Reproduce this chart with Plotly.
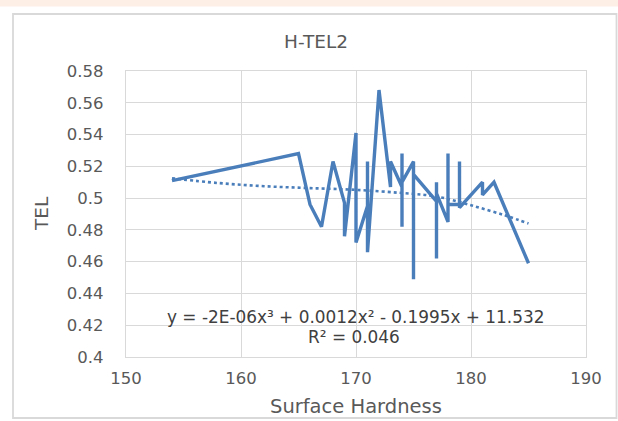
import plotly.graph_objects as go

# Data (in plotting order)
hardness = [154, 165, 166, 167, 168, 169, 169, 170, 170, 171, 171, 171, 172,
            173, 173, 174, 174, 174, 174, 175, 175, 175, 177, 177, 177, 177,
            178, 178, 178, 179, 179, 179, 181, 181, 182, 185]
tel = [0.511, 0.528, 0.496, 0.482, 0.523, 0.497, 0.476, 0.541, 0.472, 0.495,
       0.523, 0.466, 0.568, 0.507, 0.523, 0.507, 0.528, 0.482, 0.510, 0.523,
       0.449, 0.515, 0.498, 0.510, 0.462, 0.503, 0.485, 0.528, 0.496, 0.496,
       0.523, 0.494, 0.510, 0.502, 0.510, 0.459]

# Polynomial (order 3) trendline as drawn in the reference, read at several x
trend_x = [154, 158, 162, 166, 170, 174, 177, 180, 183, 185]
trend_y = [0.5125, 0.5095, 0.5075, 0.5063, 0.5052, 0.5032, 0.5010, 0.4955, 0.4890, 0.4840]

title_text = "H-TEL2"
x_title = "Surface Hardness"
y_title = "TEL"
equation = "y = -2E-06x³ + 0.0012x² - 0.1995x + 11.532"
r2_text = "R² = 0.046"
x_ticks = [150, 160, 170, 180, 190]
y_ticks = [0.4, 0.42, 0.44, 0.46, 0.48, 0.5, 0.52, 0.54, 0.56, 0.58]
y_ticktext = ["0.4", "0.42", "0.44", "0.46", "0.48", "0.5", "0.52", "0.54", "0.56", "0.58"]

blue = "#4A7EBB"
grid = "#D9D9D9"
txt = "#595959"
font = "'DejaVu Sans', sans-serif"

fig = go.Figure()
fig.add_trace(go.Scatter(x=hardness, y=tel, mode="lines",
                         line=dict(color=blue, width=3.4), hoverinfo="skip"))
fig.add_trace(go.Scatter(x=trend_x, y=trend_y, mode="lines", line_shape="spline",
                         line=dict(color=blue, width=2.6, dash="dot"), hoverinfo="skip"))

fig.update_layout(
    width=618, height=421,
    margin=dict(l=126, r=32, t=71, b=64),
    paper_bgcolor="white", plot_bgcolor="white",
    showlegend=False,
    font=dict(family=font, color=txt, size=15),
)
fig.update_xaxes(range=[150, 190], tickvals=x_ticks, showgrid=True, gridcolor=grid,
                 gridwidth=1.3, showline=True, linecolor=grid, linewidth=1.3, mirror=True,
                 zeroline=False, ticks="outside", ticklen=6, tickcolor="rgba(0,0,0,0)",
                 tickfont=dict(size=16.5, color=txt))
fig.update_yaxes(range=[0.4, 0.58], tickvals=y_ticks, ticktext=y_ticktext, showgrid=True,
                 gridcolor=grid, gridwidth=1.3, showline=True, linecolor=grid, linewidth=1.3,
                 mirror=True, zeroline=False, ticks="outside", ticklen=18,
                 tickcolor="rgba(0,0,0,0)", tickfont=dict(size=16.5, color=txt))

W, H = 460.0, 286.0
def px(x):
    return (x - 126) / W
def py(y):
    return (357 - y) / H

# pink band at top and chart border
fig.add_shape(type="rect", xref="paper", yref="paper", x0=px(-5), x1=px(625),
              y0=py(6.5), y1=py(-5), fillcolor="#FDEEE6", line=dict(width=0), layer="below")
fig.add_shape(type="rect", xref="paper", yref="paper", x0=px(13), x1=px(616.5),
              y0=py(418), y1=py(14), line=dict(color="#D9D9D9", width=1.8),
              fillcolor="rgba(0,0,0,0)")

def note(text, x, y, size, color=txt, angle=0):
    fig.add_annotation(text=text, xref="paper", yref="paper", x=px(x), y=py(y),
                       xanchor="center", yanchor="middle", showarrow=False,
                       textangle=angle, font=dict(size=size, color=color))

note(title_text, 316, 41, 18.5)
note(x_title, 356, 406, 19.5)
note(y_title, 41, 214, 18.5, angle=-90)
note(equation, 355, 317, 16.9, color="#404040")
note(r2_text, 354, 337, 16.9, color="#404040")

fig.write_html("out.html")
